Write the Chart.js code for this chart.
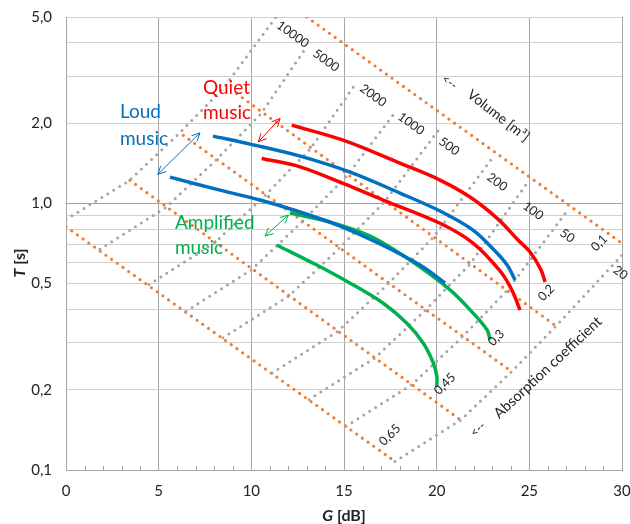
<!DOCTYPE html>
<html lang="en">
<head>
<meta charset="UTF-8">
<title>Reverberation time versus strength</title>
<script src="https://cdn.jsdelivr.net/npm/chart.js"></script>
<style>
  html, body { margin: 0; padding: 0; background: #fff; }
</style>
</head>
<body>
<canvas id="chart" width="630" height="524"></canvas>
<script>
// axes
const yGrid = [0.1, 0.2, 0.3, 0.4, 0.5, 0.6, 0.7, 0.8, 0.9, 1, 2, 3, 4, 5];
const yLabels = [0.1, 0.2, 0.5, 1, 2, 5];

// absorption coefficient lines (orange dotted): start / end
const alphaNames = ['0,1', '0,2', '0,3', '0,45', '0,65'];
const alphaG = [[12.99, 30], [9.21, 26.44], [6.33, 24.05], [3.45, 21.30], [0, 17.75]];
const alphaT = [[5.0, 0.708], [2.58, 0.347], [1.80, 0.234], [1.22, 0.154], [0.817, 0.1077]];

// volume lines (grey dotted)
const volumeNames = ['10000', '5000', '2000', '1000', '500', '200', '100', '50', '20'];
const volumeG = [
  [0, 3.38, 6.14, 8.53, 11.33],
  [1.83, 5.38, 8.13, 10.52, 13.0],
  [4.48, 8.02, 10.78, 13.17, 15.69],
  [6.48, 10.02, 12.77, 15.16, 17.85],
  [8.47, 12.02, 14.77, 17.16, 20.18],
  [11.12, 14.66, 17.42, 19.81, 23.04],
  [13.11, 16.66, 19.41, 21.80, 24.88],
  [15.11, 18.66, 21.41, 23.80, 26.98],
  [17.75, 21.30, 24.05, 26.44, 30]
];
const volumeT = [
  [0.87, 1.212, 1.838, 2.727, 5.0],
  [0.673, 0.964, 1.462, 2.168, 3.88],
  [0.496, 0.711, 1.078, 1.598, 2.854],
  [0.394, 0.565, 0.857, 1.271, 2.236],
  [0.313, 0.449, 0.681, 1.01, 1.914],
  [0.231, 0.331, 0.502, 0.745, 1.491],
  [0.184, 0.263, 0.399, 0.592, 1.191],
  [0.146, 0.209, 0.317, 0.471, 0.925],
  [0.1077, 0.154, 0.234, 0.347, 0.639]
];

// music curves
const quietHighG = [12.18, 14.95, 18.02, 20.18, 21.80, 23.31, 24.39, 25.04, 25.63, 25.85];
const quietHighT = [1.965, 1.726, 1.415, 1.223, 1.056, 0.873, 0.729, 0.657, 0.563, 0.507];
const quietLowG = [10.56, 12.63, 14.95, 17.11, 20.18, 21.96, 23.42, 24.05, 24.50];
const quietLowT = [1.474, 1.371, 1.188, 1.029, 0.842, 0.710, 0.558, 0.474, 0.398];
const loudHighG = [7.93, 9.93, 12.63, 15.33, 18.02, 20.18, 21.96, 23.10, 23.80, 24.23];
const loudHighT = [1.787, 1.668, 1.504, 1.310, 1.093, 0.936, 0.794, 0.668, 0.587, 0.516];
const loudLowG = [5.61, 8.31, 10.47, 12.63, 14.79, 16.95, 19.10, 20.45];
const loudLowT = [1.254, 1.121, 1.029, 0.928, 0.822, 0.704, 0.587, 0.503];
const ampHighG = [12.09, 14.25, 16.41, 18.56, 20.72, 21.96, 22.72, 22.88];
const ampHighT = [0.920, 0.851, 0.754, 0.613, 0.474, 0.388, 0.335, 0.308];
const ampLowG = [11.37, 13.53, 15.33, 17.12, 18.39, 19.28, 19.82, 20.01, 20.01];
const ampLowT = [0.698, 0.587, 0.502, 0.422, 0.355, 0.299, 0.252, 0.224, 0.206];

// double arrows between curve pairs
const loudArrow = [[7.23, 1.838], [4.95, 1.284]];
const quietArrow = [[11.55, 2.082], [10.38, 1.701]];
const ampArrow = [[12.0, 0.904], [10.74, 0.754]];

// label anchors (G, T)
const volumeLabelAt = [[11.45, 4.72], [13.40, 3.70], [15.94, 2.73], [17.99, 2.14], [20.20, 1.73],
  [22.79, 1.27], [24.73, 0.99], [26.73, 0.784], [29.60, 0.57]];
const alphaLabelAt = [[28.44, 0.674], [25.58, 0.438], [22.88, 0.297], [19.97, 0.195], [17.0, 0.1255]];

const RED = '#FF0000', BLUE = '#0070C0', GREEN = '#00B050';
const ORANGE = '#ED7D31', GREY = '#A5A5A5';

function pts(gs, ts) {
  return gs.map((g, i) => ({ x: g, y: ts[i] }));
}

const datasets = [];
// curves on top
[[quietHighG, quietHighT, RED], [quietLowG, quietLowT, RED],
 [loudHighG, loudHighT, BLUE], [loudLowG, loudLowT, BLUE],
 [ampHighG, ampHighT, GREEN], [ampLowG, ampLowT, GREEN]].forEach(([g, t, c]) => {
  datasets.push({
    data: pts(g, t), showLine: true, borderColor: c, borderWidth: 3.5,
    pointRadius: 0, tension: 0.35, order: 1
  });
});
alphaG.forEach((g, i) => {
  datasets.push({
    data: pts(g, alphaT[i]), showLine: true, borderColor: ORANGE, borderWidth: 3.2,
    borderDash: [0, 7], borderCapStyle: 'round', pointRadius: 0, order: 3, clip: 0
  });
});
volumeG.forEach((g, i) => {
  datasets.push({
    data: pts(g, volumeT[i]), showLine: true, borderColor: GREY, borderWidth: 3,
    borderDash: [0, 7], borderCapStyle: 'round', pointRadius: 0, order: 2, clip: 0
  });
});

const overlay = {
  id: 'overlay',
  afterDatasetsDraw(chart) {
    const { ctx, chartArea } = chart;
    const x = chart.scales.x, y = chart.scales.y;
    const px = (g) => x.getPixelForValue(g);
    const py = (t) => y.getPixelForValue(t);

    ctx.save();
    // minor ticks along the G axis
    ctx.strokeStyle = '#a6a6a6';
    ctx.lineWidth = 1;
    for (let g = 1; g < 30; g++) {
      if (g % 5 === 0) continue;
      const xx = Math.round(px(g)) + 0.5;
      ctx.beginPath();
      ctx.moveTo(xx, chartArea.bottom);
      ctx.lineTo(xx, chartArea.bottom - 4);
      ctx.stroke();
    }

    function text(str, g, t, deg, font, color) {
      ctx.save();
      ctx.translate(px(g), py(t));
      ctx.rotate(deg * Math.PI / 180);
      ctx.font = font;
      ctx.fillStyle = color;
      ctx.textAlign = 'left';
      ctx.textBaseline = 'middle';
      ctx.fillText(str, 0, 0);
      ctx.restore();
    }

    function arrow(p, color) {
      const x1 = px(p[0][0]), y1 = py(p[0][1]), x2 = px(p[1][0]), y2 = py(p[1][1]);
      ctx.save();
      ctx.strokeStyle = color;
      ctx.lineWidth = 1;
      ctx.beginPath();
      ctx.moveTo(x1, y1);
      ctx.lineTo(x2, y2);
      [[x1, y1, x2, y2], [x2, y2, x1, y1]].forEach(([ax, ay, bx, by]) => {
        const a = Math.atan2(by - ay, bx - ax);
        [-0.45, 0.45].forEach(d => {
          ctx.moveTo(ax, ay);
          ctx.lineTo(ax + 9 * Math.cos(a + d), ay + 9 * Math.sin(a + d));
        });
      });
      ctx.stroke();
      ctx.restore();
    }

    // volume and absorption labels
    const small = '12.5px Lato';
    volumeNames.forEach((n, i) => text(n, volumeLabelAt[i][0], volumeLabelAt[i][1], 36, small, '#222'));
    alphaNames.forEach((n, i) => text(n, alphaLabelAt[i][0], alphaLabelAt[i][1], -45, small, '#222'));
    text('<--', 20.35, 2.97, 37, '12px Lato', '#222');
    text('Volume [m\u00b3]', 21.75, 2.60, 38, '14px Lato', '#222');
    text('<--', 21.91, 0.1356, -43, '12px Lato', '#222');
    text('Absorption coefficient', 23.21, 0.1597, -43, '14.5px Lato', '#222');

    // music labels
    const big = '19px Lato';
    text('Loud', 2.91, 2.198, 0, big, BLUE);
    text('music', 2.91, 1.741, 0, big, BLUE);
    text('Quiet', 7.39, 2.703, 0, big, RED);
    text('music', 7.39, 2.179, 0, big, RED);
    text('Amplified', 5.88, 0.844, 0, big, GREEN);
    text('music', 5.88, 0.680, 0, big, GREEN);

    arrow(loudArrow, BLUE);
    arrow(quietArrow, RED);
    arrow(ampArrow, GREEN);

    // axis titles: italic bold symbol + bold unit
    function title(sym, unit, cx, cy, rot) {
      ctx.save();
      ctx.translate(cx, cy);
      ctx.rotate(rot);
      ctx.fillStyle = '#222';
      ctx.textBaseline = 'middle';
      ctx.font = 'italic bold 16px Lato';
      const w1 = ctx.measureText(sym).width;
      ctx.font = 'bold 16px Lato';
      const w2 = ctx.measureText(unit).width;
      const sx = -(w1 + w2) / 2;
      ctx.font = 'italic bold 16px Lato';
      ctx.fillText(sym, sx, 0);
      ctx.font = 'bold 16px Lato';
      ctx.fillText(unit, sx + w1, 0);
      ctx.restore();
    }
    title('T', ' [s]', 20, 263, -Math.PI / 2);
    title('G', ' [dB]', 344, 516, 0);
    ctx.restore();
  }
};

new Chart(document.getElementById('chart'), {
  type: 'scatter',
  data: { datasets: datasets },
  options: {
    responsive: false,
    animation: false,
    layout: { padding: { left: 0, right: 8, top: 17, bottom: 0 } },
    plugins: { legend: { display: false }, tooltip: { enabled: false } },
    scales: {
      x: {
        type: 'linear', min: 0, max: 30,
        afterFit: (s) => { s.height = 54; s.paddingLeft = 0; s.paddingRight = 0; },
        ticks: { stepSize: 5, padding: 12, color: '#222', font: { family: 'Lato', size: 15 } },
        grid: { color: '#a6a6a6', drawTicks: false },
        border: { color: '#a6a6a6' }
      },
      y: {
        type: 'logarithmic', min: 0.1, max: 5,
        afterFit: (s) => { s.width = 66; s.paddingTop = 0; s.paddingBottom = 0; },
        afterBuildTicks: (s) => { s.ticks = yGrid.map(v => ({ value: v })); },
        ticks: {
          autoSkip: false, padding: 14, color: '#222', font: { family: 'Lato', size: 15 },
          callback: (v) => yLabels.includes(v) ? v.toFixed(1).replace('.', ',') : ''
        },
        grid: {
          drawTicks: false,
          color: (c) => (c.tick && c.tick.value === 1) ? '#a0a0a0' : '#d0d0d0'
        },
        border: { color: '#a6a6a6' }
      }
    }
  },
  plugins: [overlay]
});
</script>
</body>
</html>
